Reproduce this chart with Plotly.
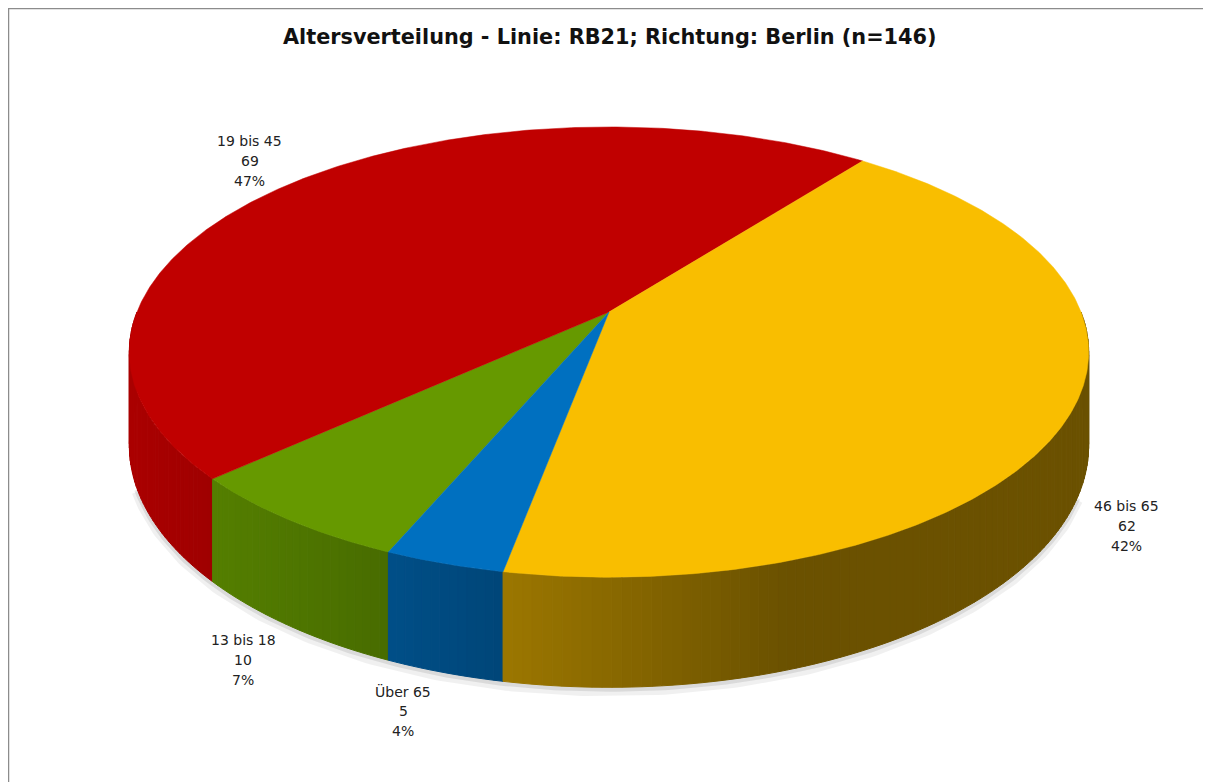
import numpy as np
import plotly.graph_objects as go

# data
categories = ["13 bis 18", "19 bis 45", "46 bis 65", "Über 65"]
counts = [10, 69, 62, 5]
percent_labels = ["7%", "47%", "42%", "4%"]
slice_colors = ["#669900", "#C00000", "#F9BE00", "#0070C0"]
title_text = "Altersverteilung - Linie: RB21; Richtung: Berlin (n=146)"

# the page body has an 8px margin, so the axes are set up in page pixels
PAGE_W, PAGE_H, BODY = 1211, 782, 8

# 3D pie geometry (page pixels)
CX, CY = 609, 312
RX, RY = 472, 218
K = 0.178          # perspective strength
DEPTH = 90.5
START = 203        # first slice starts here, degrees clockwise from 12 o'clock


def project(theta):
    t = np.radians(theta)
    u, w = np.sin(t), -np.cos(t)
    d = 1 - K * w
    return CX + RX * u / d, CY + RY * w / d, DEPTH / d, u, w


def hex_rgb(h):
    h = h.lstrip("#")
    return [int(h[i:i + 2], 16) for i in (0, 2, 4)]


def shade(color, f):
    r, g, b = hex_rgb(color)
    return f"rgb({int(r * f)},{int(g * f)},{int(b * f)})"


total = sum(counts)
spans = [c / total * 360 for c in counts]
starts = START + np.concatenate([[0], np.cumsum(spans)[:-1]])

fig = go.Figure()

# soft shadow below the front rim
th = np.linspace(112, 250, 200)
sx, sy, sd, _, _ = project(th)
fig.add_trace(go.Scatter(x=sx, y=sy + sd + 4, mode="lines",
                         line=dict(color="rgba(0,0,0,0.06)", width=10),
                         hoverinfo="skip", showlegend=False))
fig.add_trace(go.Scatter(x=sx, y=sy + sd + 2, mode="lines",
                         line=dict(color="rgba(0,0,0,0.09)", width=5),
                         hoverinfo="skip", showlegend=False))

# side walls, built from thin strips so the shading can run left to right
strips = []
for a0, span, col in zip(starts, spans, slice_colors):
    a1 = a0 + span
    for off in (0, 360, -360):
        lo, hi = max(a0 + off, 90), min(a1 + off, 270)
        if hi <= lo:
            continue
        edges = np.linspace(lo, hi, max(2, int((hi - lo) / 1.0) + 2))
        for e0, e1 in zip(edges[:-1], edges[1:]):
            x0, y0, d0, _, w0 = project(e0)
            x1, y1, d1, _, w1 = project(e1)
            xm = (x0 + x1) / 2
            f = float(np.clip(0.875 - 0.0007 * (xm - 150), 0.43, 0.9))
            strips.append(((w0 + w1) / 2, [x0, x1, x1, x0, x0],
                           [y0, y1, y1 + d1, y0 + d0, y0], shade(col, f)))

strips.sort(key=lambda s: s[0])
for _, xs, ys, c in strips:
    fig.add_trace(go.Scatter(x=xs, y=ys, mode="lines", fill="toself",
                             fillcolor=c, line=dict(color=c, width=1),
                             hoverinfo="skip", showlegend=False))

# top faces
for a0, span, col in zip(starts, spans, slice_colors):
    th = np.linspace(a0, a0 + span, max(3, int(span * 2)))
    px, py, _, _, _ = project(th)
    fig.add_trace(go.Scatter(x=np.concatenate([[CX], px, [CX]]),
                             y=np.concatenate([[CY], py, [CY]]),
                             mode="lines", fill="toself", fillcolor=col,
                             line=dict(color=col, width=0.5),
                             hoverinfo="skip", showlegend=False))

# data labels
for a0, span, name, n, pct in zip(starts, spans, categories, counts, percent_labels):
    mid = a0 + span / 2
    x, y, d, u, w = project(mid)
    if w > 0:
        y = y + d
    lx = x + np.sign(u) * 35 + u * 20
    ly = y + w * 35 + 5
    for i, line in enumerate([name, str(n), pct]):
        fig.add_annotation(x=lx, y=ly + (i - 1) * 20, text=line, showarrow=False,
                           font=dict(family="DejaVu Sans", size=14, color="#222222"),
                           xanchor="center", yanchor="middle")

fig.add_annotation(x=610, y=37, text=f"<b>{title_text}</b>", showarrow=False,
                   font=dict(family="DejaVu Sans", size=20.8, color="#111111"),
                   xanchor="center", yanchor="middle")

# chart frame (only the top and left edges are inside the picture)
fig.add_shape(type="line", x0=BODY, x1=PAGE_W, y0=BODY + 0.5, y1=BODY + 0.5,
              line=dict(color="#8c8c8c", width=1.5))
fig.add_shape(type="line", x0=BODY + 0.5, x1=BODY + 0.5, y0=BODY, y1=PAGE_H,
              line=dict(color="#8c8c8c", width=1.5))

fig.update_layout(
    width=PAGE_W - BODY, height=PAGE_H - BODY,
    margin=dict(l=0, r=0, t=0, b=0),
    paper_bgcolor="white", plot_bgcolor="white",
    xaxis=dict(range=[BODY, PAGE_W], visible=False, fixedrange=True),
    yaxis=dict(range=[PAGE_H, BODY], visible=False, fixedrange=True),
    showlegend=False,
)

fig.write_html("out.html")
